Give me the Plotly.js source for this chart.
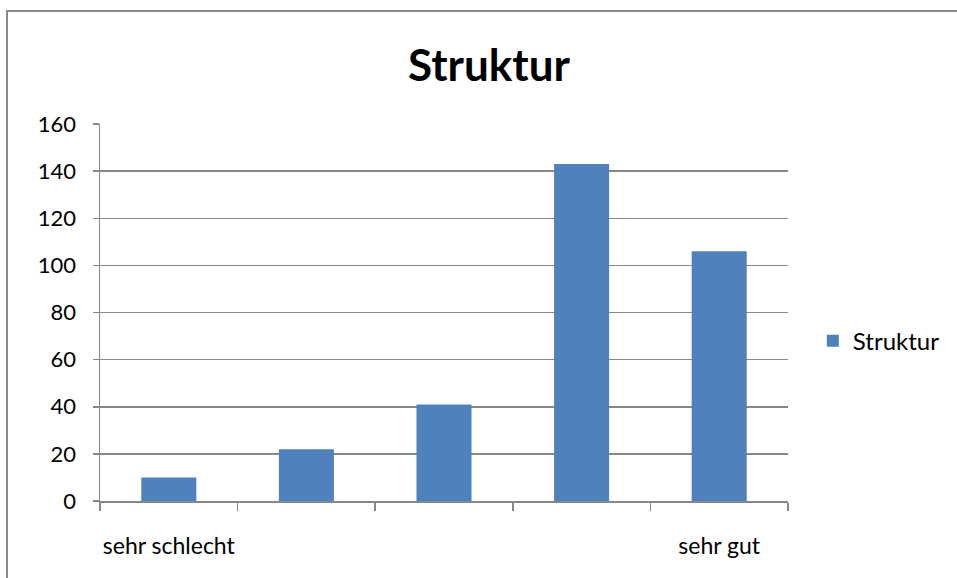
<!DOCTYPE html>
<html>
<head>
<meta charset="utf-8">
<script src="https://cdn.plot.ly/plotly-3.0.1.min.js"></script>
<style>
  html, body { margin: 0; padding: 0; background: #fff; }
  #wrap { position: relative; width: 957px; height: 578px; overflow: hidden; }
  #chart { position: absolute; left: 0; top: 0; width: 957px; height: 578px; }
  #frame { position: absolute; left: 6px; top: 10px; width: 960px; height: 600px;
           border: 2px solid #898989; box-sizing: border-box; pointer-events: none; }
</style>
</head>
<body>
<div id="wrap">
  <div id="chart"></div>
  <div id="frame"></div>
</div>
<script>
const categories = ["1", "2", "3", "4", "5"];
const tickLabels = ["sehr schlecht", "", "", "", "sehr gut"];
const seriesName = "Struktur";
const values = [10, 22, 41, 143, 106];
const yTicks = [0, 20, 40, 60, 80, 100, 120, 140, 160];

const FONT = "Lato, 'Open Sans', sans-serif";
const GRID = "#878787";

const data = [{
  type: "bar",
  x: categories,
  y: values,
  name: seriesName,
  marker: { color: "#4F81BD", line: { width: 0 } },
  width: 0.4,
  showlegend: true
}];

const layout = {
  width: 957,
  height: 578,
  paper_bgcolor: "rgba(0,0,0,0)",
  plot_bgcolor: "#fff",
  margin: { l: 100, r: 164, t: 124, b: 77, pad: 0 },
  title: {
    text: "<b>Struktur</b>",
    font: { family: FONT, size: 44, color: "#000" },
    x: 489 / 957, xanchor: "center",
    y: 1 - 66 / 578, yanchor: "middle"
  },
  font: { family: FONT, size: 23, color: "#000" },
  showlegend: true,
  legend: {
    x: (818 - 100) / 693, y: 0.424, xanchor: "left", yanchor: "middle",
    font: { family: FONT, size: 24, color: "#000" },
    bgcolor: "rgba(0,0,0,0)", borderwidth: 0,
    itemwidth: 30
  },
  xaxis: {
    type: "category",
    tickmode: "array",
    tickvals: categories,
    ticktext: tickLabels,
    tickson: "boundaries",
    tickangle: 0,
    ticks: "outside",
    ticklen: 8,
    tickwidth: 1.5,
    tickcolor: GRID,
    ticklabelstandoff: 24,
    showline: true,
    linecolor: GRID,
    linewidth: 1.5,
    showgrid: false,
    zeroline: false,
    range: [-0.5, 4.5],
    tickfont: { family: FONT, size: 23, color: "#000" }
  },
  yaxis: {
    range: [0, 160],
    tickmode: "array",
    tickvals: yTicks,
    ticks: "outside",
    ticklen: 6,
    tickwidth: 1.5,
    tickcolor: GRID,
    showline: true,
    linecolor: GRID,
    linewidth: 1.5,
    showgrid: true,
    gridcolor: GRID,
    gridwidth: 1.5,
    zeroline: false,
    ticklabelstandoff: 12,
    tickfont: { family: FONT, size: 22, color: "#000" }
  }
};

Plotly.newPlot("chart", data, layout, { displayModeBar: false, staticPlot: true });
</script>
</body>
</html>
